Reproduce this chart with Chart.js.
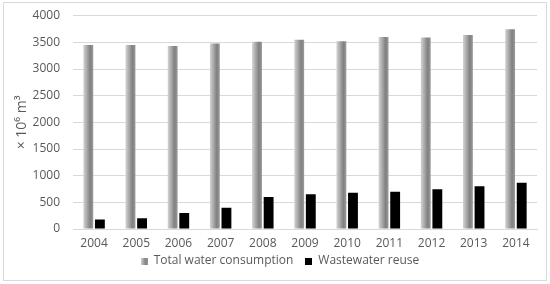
<!DOCTYPE html>
<html>
<head>
<meta charset="utf-8">
<script src="https://cdn.jsdelivr.net/npm/chart.js@4.4.1/dist/chart.umd.min.js"></script>
<style>
  html, body { margin: 0; padding: 0; background: #fff; }
  #wrap { position: relative; width: 550px; height: 284px; }
  #frame { position: absolute; left: 3px; top: 2px; width: 542px; height: 277px; border: 1px solid #d9d9d9; pointer-events: none; }
</style>
</head>
<body>
<div id="wrap">
  <canvas id="myChart" width="550" height="284"></canvas>
  <div id="frame"></div>
</div>
<script>
const years = ["2004", "2005", "2006", "2007", "2008", "2009", "2010", "2011", "2012", "2013", "2014"];
const totalConsumption = [3450, 3450, 3430, 3480, 3510, 3550, 3520, 3600, 3590, 3640, 3745];
const wastewaterReuse = [176, 200, 300, 400, 600, 650, 680, 700, 745, 800, 865];
const yTicks = { min: 0, max: 4000, step: 500 };

const textColor = "#595959";
const catPct = 0.55;
const barPct = 0.85;

// cylinder-ish shading for the grey bars, one gradient per bar
const grayFill = (ctx) => {
  const chart = ctx.chart;
  const x = chart.scales.x;
  if (!chart.chartArea || !x || x.width === undefined) return "#a6a6a6";
  const slot = (x.width / years.length) * catPct / 2;
  const center = x.getPixelForValue(ctx.dataIndex) - slot / 2;
  const w = slot * barPct;
  const g = chart.ctx.createLinearGradient(center - w / 2, 0, center + w / 2, 0);
  g.addColorStop(0, "#d4d4d4");
  g.addColorStop(0.7, "#808080");
  g.addColorStop(1, "#9a9a9a");
  return g;
};

const makeIcon = (fill) => {
  const c = document.createElement("canvas");
  c.width = 7; c.height = 7;
  const cx = c.getContext("2d");
  if (fill) {
    cx.fillStyle = fill;
  } else {
    const g = cx.createLinearGradient(0, 0, 7, 0);
    g.addColorStop(0, "#d4d4d4");
    g.addColorStop(0.7, "#808080");
    g.addColorStop(1, "#9a9a9a");
    cx.fillStyle = g;
  }
  cx.fillRect(0, 0, 7, 7);
  return c;
};

// legend: keep the wide gap between items but a tight box, nudged right like the original
const legendTweak = {
  id: "legendTweak",
  afterInit(chart) {
    const lg = chart.legend;
    const fit = lg.fit.bind(lg);
    const draw = lg.draw.bind(lg);
    lg.fit = function () { fit(); this.height = 30.6; };
    lg.draw = function () {
      this.top -= 7.4; this.left += 10; this.right += 10;
      draw();
      this.top += 7.4; this.left -= 10; this.right -= 10;
    };
  },
};

const ctx = document.getElementById("myChart").getContext("2d");
new Chart(ctx, {
  type: "bar",
  data: {
    labels: years,
    datasets: [
      {
        label: "Total water consumption",
        data: totalConsumption,
        backgroundColor: grayFill,
        pointStyle: makeIcon(null),
        categoryPercentage: catPct,
        barPercentage: barPct,
      },
      {
        label: "Wastewater reuse",
        data: wastewaterReuse,
        backgroundColor: "#000000",
        borderColor: "#000000",
        pointStyle: makeIcon("#000000"),
        categoryPercentage: catPct,
        barPercentage: barPct,
      },
    ],
  },
  plugins: [legendTweak],
  options: {
    responsive: false,
    animation: false,
    layout: { padding: { left: 3, right: 13, top: 15.7, bottom: 3 } },
    plugins: {
      tooltip: { enabled: false },
      legend: {
        position: "bottom",
        labels: {
          usePointStyle: true,
          color: textColor,
          font: { family: "Open Sans", size: 12 },
          padding: 12,
          boxWidth: 7,
          boxHeight: 7,
        },
      },
    },
    scales: {
      x: {
        grid: { display: false, tickLength: 7 },
        border: { color: "#d9d9d9" },
        ticks: { color: textColor, font: { family: "Open Sans", size: 12 }, padding: 0 },
      },
      y: {
        min: yTicks.min,
        max: yTicks.max,
        afterFit: (scale) => { scale.width = 70; },
        grid: { color: "#d9d9d9", drawTicks: true, tickLength: 12, tickColor: "rgba(0,0,0,0)" },
        border: { display: false },
        ticks: {
          stepSize: yTicks.step,
          color: textColor,
          font: { family: "Open Sans", size: 12 },
          padding: 1,
          callback: (v) => String(v),
        },
        title: {
          display: true,
          text: "× 10⁶ m³",
          color: textColor,
          font: { family: "Open Sans", size: 14 },
          padding: { top: 11, bottom: 0 },
        },
      },
    },
  },
});
</script>
</body>
</html>
